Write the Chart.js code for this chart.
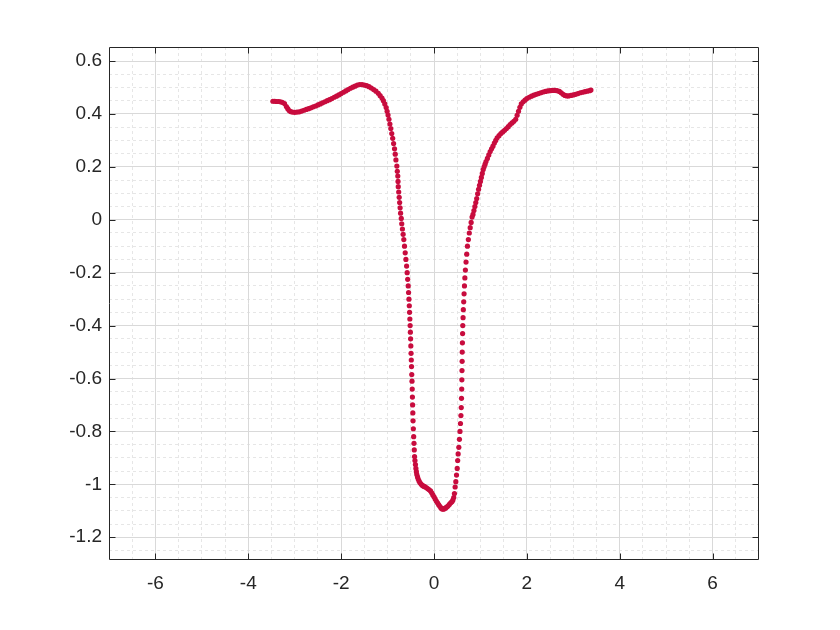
<!DOCTYPE html>
<html>
<head>
<meta charset="utf-8">
<script src="https://cdn.jsdelivr.net/npm/chart.js@4"></script>
<style>
  html, body { margin: 0; padding: 0; background: #fff; }
  #wrap { width: 840px; height: 630px; }
</style>
</head>
<body>
<div id="wrap"><canvas id="c" width="840" height="630"></canvas></div>
<script>
// Valori (x, y)
const xVals = [
  -3.47, -3.43, -3.39, -3.35, -3.31, -3.27, -3.22, -3.18, -3.15, -3.12, -3.09, -3.05, -3.0,
  -2.95, -2.90, -2.85, -2.80, -2.75, -2.70, -2.65, -2.60, -2.55, -2.50, -2.45, -2.40,
  -2.35, -2.30, -2.25, -2.20, -2.15, -2.10, -2.05, -2.00, -1.95, -1.90, -1.85, -1.80,
  -1.75, -1.70, -1.65, -1.60, -1.55, -1.50, -1.45, -1.40, -1.35, -1.30, -1.25, -1.20,
  -1.16, -1.12, -1.09, -1.06, -1.03, -1.01, -0.99, -0.97, -0.95, -0.93, -0.91, -0.89,
  -0.87, -0.85, -0.835, -0.82, -0.80, -0.79, -0.78,
  -0.775, -0.77, -0.76, -0.75, -0.74, -0.73, -0.72, -0.705, -0.695, -0.68, -0.665, -0.65,
  -0.635, -0.62, -0.605, -0.59, -0.578, -0.567, -0.555, -0.548, -0.54, -0.532, -0.526,
  -0.52, -0.514, -0.509, -0.504, -0.499, -0.494, -0.489, -0.484, -0.479, -0.474, -0.469,
  -0.465, -0.461, -0.456, -0.451, -0.445, -0.438, -0.431, -0.425, -0.419,
  -0.41, -0.40, -0.39, -0.38, -0.37, -0.355, -0.34, -0.32, -0.30, -0.275, -0.25, -0.225,
  -0.2, -0.168, -0.14, -0.11, -0.075, -0.05, -0.025, 0.0, 0.025, 0.05, 0.075, 0.1,
  0.125, 0.15, 0.175, 0.2, 0.225, 0.25, 0.275, 0.3, 0.33, 0.36, 0.385, 0.405, 0.425, 0.44,
  0.455, 0.47, 0.485, 0.5, 0.51, 0.52, 0.535, 0.548, 0.56, 0.57, 0.58, 0.587, 0.592,
  0.597, 0.6, 0.603, 0.606, 0.608, 0.612, 0.616, 0.62, 0.626, 0.632, 0.64, 0.648, 0.656,
  0.665, 0.676, 0.69, 0.705, 0.72, 0.74, 0.76, 0.78, 0.80, 0.82,
  0.84, 0.86, 0.88, 0.90, 0.92, 0.94, 0.96, 0.98, 1.0, 1.02, 1.04, 1.06, 1.08, 1.10,
  1.12, 1.15, 1.18, 1.21, 1.24, 1.27, 1.30, 1.33, 1.36, 1.40, 1.44, 1.48, 1.52, 1.56,
  1.60, 1.64, 1.68, 1.72, 1.76, 1.79, 1.82, 1.85, 1.88, 1.92, 1.96, 2.0, 2.05, 2.1,
  2.15, 2.2, 2.25, 2.3, 2.35, 2.4, 2.45, 2.5, 2.55, 2.6, 2.65, 2.7, 2.74, 2.78, 2.82,
  2.86, 2.9, 2.95, 3.0, 3.05, 3.1, 3.15, 3.2, 3.25, 3.3, 3.35, 3.38
];
const yVals = [
  0.448, 0.448, 0.447, 0.447, 0.446, 0.444, 0.439, 0.428, 0.420, 0.413, 0.409, 0.407, 0.406,
  0.407, 0.408, 0.411, 0.414, 0.417, 0.420, 0.423, 0.427, 0.430, 0.434, 0.438, 0.442,
  0.446, 0.450, 0.454, 0.458, 0.463, 0.467, 0.472, 0.477, 0.482, 0.487, 0.492, 0.497,
  0.501, 0.505, 0.509, 0.511, 0.511, 0.509, 0.507, 0.503, 0.498, 0.492, 0.486, 0.478,
  0.469, 0.460, 0.450, 0.438, 0.424, 0.410, 0.396, 0.380, 0.362, 0.345, 0.326, 0.308,
  0.288, 0.268, 0.248, 0.226, 0.203, 0.183, 0.165,
  0.145, 0.125, 0.105, 0.085, 0.065, 0.045, 0.025, 0.005, -0.015, -0.035, -0.055, -0.075,
  -0.10, -0.125, -0.15, -0.175, -0.20, -0.225, -0.25, -0.275, -0.30, -0.325, -0.35,
  -0.375, -0.40, -0.425, -0.45, -0.477, -0.505, -0.53, -0.555, -0.585, -0.61, -0.64,
  -0.67, -0.70, -0.73, -0.76, -0.79, -0.82, -0.845, -0.87, -0.895,
  -0.91, -0.925, -0.94, -0.952, -0.963, -0.972, -0.98, -0.988, -0.994, -1.0, -1.004, -1.007,
  -1.009, -1.012, -1.016, -1.02, -1.025, -1.032, -1.04, -1.047, -1.055, -1.063, -1.07, -1.077,
  -1.083, -1.089, -1.093, -1.094, -1.092, -1.089, -1.086, -1.082, -1.076, -1.07, -1.066, -1.06, -1.05, -1.035,
  -1.01, -0.99, -0.965, -0.94, -0.91, -0.885, -0.86, -0.83, -0.80, -0.77, -0.74, -0.71, -0.675,
  -0.64, -0.605, -0.57, -0.535, -0.50, -0.465, -0.43, -0.40, -0.37, -0.34, -0.31, -0.28, -0.25,
  -0.22, -0.19, -0.16, -0.13, -0.10, -0.075, -0.05, -0.03, -0.01, 0.01,
  0.02, 0.035, 0.05, 0.065, 0.08, 0.098, 0.115, 0.13, 0.145, 0.16, 0.175, 0.19, 0.2, 0.21,
  0.22, 0.232, 0.245, 0.258, 0.268, 0.278, 0.29, 0.3, 0.31, 0.318, 0.326, 0.332, 0.338, 0.345,
  0.352, 0.36, 0.366, 0.372, 0.38, 0.395, 0.41, 0.425, 0.438, 0.446, 0.452, 0.458, 0.463, 0.467,
  0.471, 0.474, 0.477, 0.48, 0.483, 0.485, 0.487, 0.488, 0.489, 0.489, 0.488, 0.485, 0.48, 0.474, 0.47,
  0.468, 0.468, 0.47, 0.472, 0.474, 0.477, 0.48, 0.482, 0.484, 0.486, 0.488, 0.49
];

// Tick principali e secondari
const xTicks = [-6, -4, -2, 0, 2, 4, 6];
const xTickLabels = ['-6', '-4', '-2', '0', '2', '4', '6'];
const yTicks = [-1.2, -1, -0.8, -0.6, -0.4, -0.2, 0, 0.2, 0.4, 0.6];
const yTickLabels = ['-1.2', '-1', '-0.8', '-0.6', '-0.4', '-0.2', '0', '0.2', '0.4', '0.6'];
const xMinorTicks = [-6.5, -5.5, -5, -4.5, -3.5, -3, -2.5, -1.5, -1, -0.5,
  0.5, 1, 1.5, 2.5, 3, 3.5, 4.5, 5, 5.5, 6.5];
const yMinorTicks = [-1.25, -1.15, -1.1, -1.05, -0.95, -0.9, -0.85, -0.75, -0.7, -0.65,
  -0.55, -0.5, -0.45, -0.35, -0.3, -0.25, -0.15, -0.1, -0.05, 0.05, 0.1, 0.15,
  0.25, 0.3, 0.35, 0.45, 0.5, 0.55];

const X_MIN = -7, X_MAX = 7, Y_MIN = -1.286, Y_MAX = 0.653;
const TEXT = '#262626';
const FONT = { family: "'Liberation Sans', Arial, Helvetica, sans-serif", size: 19 };

const points = xVals.map((x, i) => ({ x: x, y: yVals[i] }));

// Cornice e tacche interne (stile MATLAB)
const frameTicks = {
  id: 'frameTicks',
  afterDraw(chart) {
    const { ctx, chartArea: a, scales } = chart;
    const L = Math.round(a.left) + 0.5, R = Math.round(a.right) - 0.5;
    const T = Math.round(a.top) + 0.5, B = Math.round(a.bottom) - 0.5;
    const len = 6;
    ctx.save();
    ctx.strokeStyle = TEXT;
    ctx.lineWidth = 1;
    ctx.beginPath();
    ctx.rect(L, T, R - L, B - T);
    xTicks.forEach(v => {
      const px = Math.round(scales.x.getPixelForValue(v)) + 0.5;
      ctx.moveTo(px, B); ctx.lineTo(px, B - len);
      ctx.moveTo(px, T); ctx.lineTo(px, T + len);
    });
    yTicks.forEach(v => {
      const py = Math.round(scales.y.getPixelForValue(v)) + 0.5;
      ctx.moveTo(L, py); ctx.lineTo(L + len, py);
      ctx.moveTo(R, py); ctx.lineTo(R - len, py);
    });
    ctx.stroke();
    ctx.restore();
  }
};

new Chart(document.getElementById('c'), {
  type: 'scatter',
  data: {
    datasets: [{
      data: points,
      backgroundColor: 'rgb(200, 12, 62)',
      borderWidth: 0,
      pointRadius: 2.6,
      pointHoverRadius: 2.6
    }]
  },
  options: {
    responsive: false,
    animation: false,
    layout: { padding: { top: 47, right: 81, left: 0, bottom: 0 } },
    plugins: { legend: { display: false }, tooltip: { enabled: false } },
    scales: {
      xMinor: {
        type: 'linear', position: 'bottom', min: X_MIN, max: X_MAX,
        afterBuildTicks: s => { s.ticks = xMinorTicks.map(v => ({ value: v })); },
        afterFit: s => { s.height = 0; },
        ticks: { display: false },
        border: { display: false, dash: [3, 3] },
        grid: { color: '#e6e6e6', lineWidth: 1, drawTicks: false }
      },
      yMinor: {
        type: 'linear', position: 'left', min: Y_MIN, max: Y_MAX,
        afterBuildTicks: s => { s.ticks = yMinorTicks.map(v => ({ value: v })); },
        afterFit: s => { s.width = 0; },
        ticks: { display: false },
        border: { display: false, dash: [3, 3] },
        grid: { color: '#e6e6e6', lineWidth: 1, drawTicks: false }
      },
      x: {
        type: 'linear', position: 'bottom', min: X_MIN, max: X_MAX,
        afterBuildTicks: s => { s.ticks = xTicks.map(v => ({ value: v })); },
        afterFit: s => { s.height = 70; },
        ticks: {
          color: TEXT, font: FONT, padding: 12, maxRotation: 0,
          callback: (v, i) => xTickLabels[i]
        },
        border: { display: false },
        grid: { color: '#d9d9d9', lineWidth: 1, drawTicks: false }
      },
      y: {
        type: 'linear', position: 'left', min: Y_MIN, max: Y_MAX,
        afterBuildTicks: s => { s.ticks = yTicks.map(v => ({ value: v })); },
        afterFit: s => { s.width = 109; },
        ticks: {
          color: TEXT, font: FONT, padding: 7,
          callback: (v, i) => yTickLabels[i]
        },
        border: { display: false },
        grid: { color: '#d9d9d9', lineWidth: 1, drawTicks: false }
      }
    }
  },
  plugins: [frameTicks]
});
</script>
</body>
</html>
